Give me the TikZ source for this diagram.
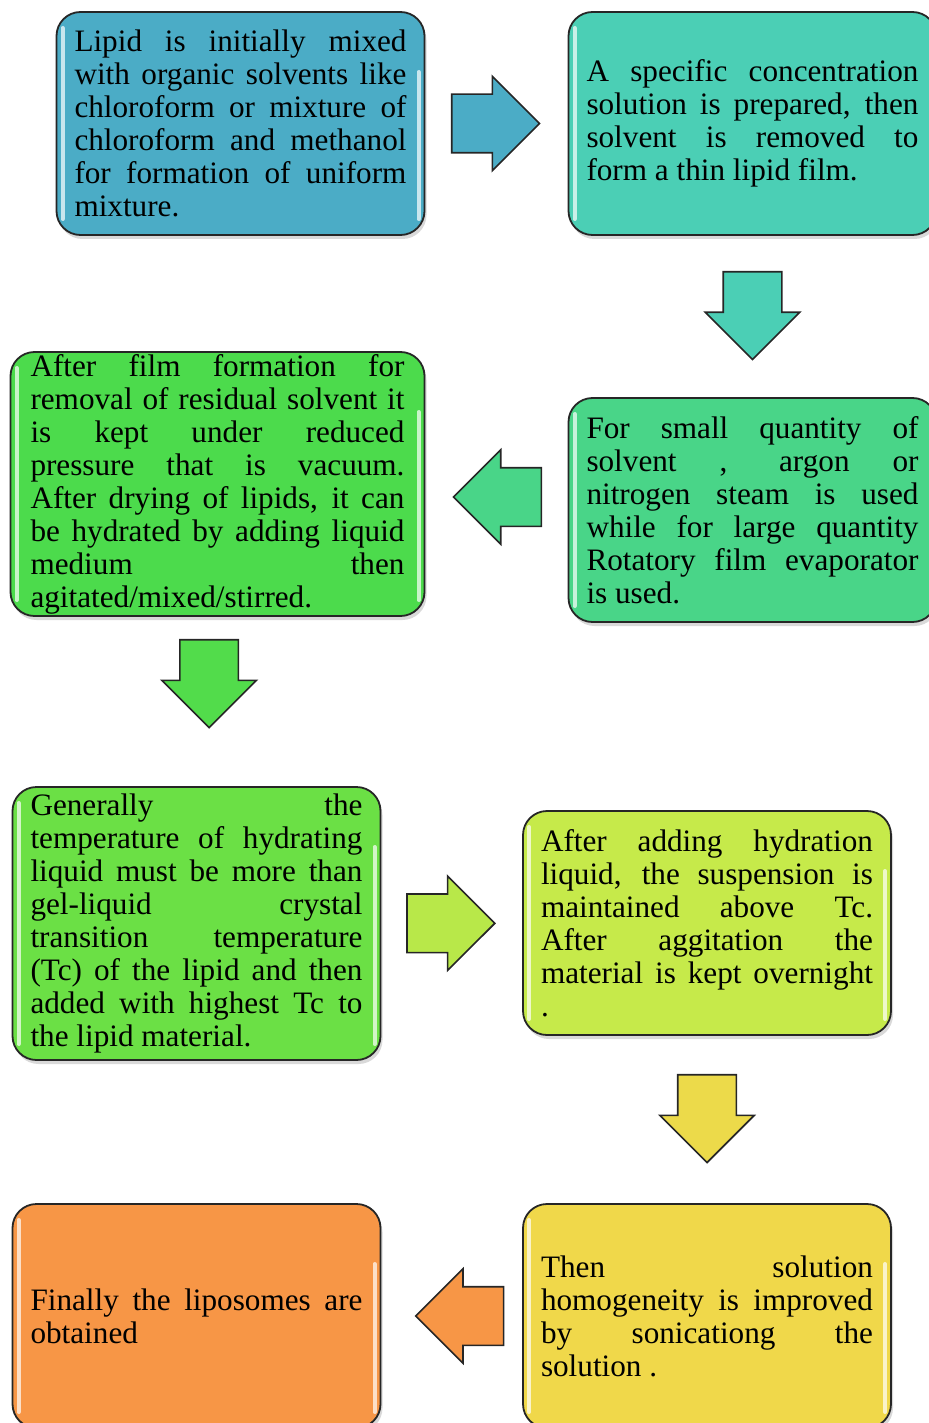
\documentclass[tikz,border=0pt]{standalone}
\usepackage{fontspec}
\setmainfont{Liberation Serif}
\usepackage{tikz}
\usetikzlibrary{shapes,arrows,positioning,calc,shadows}

\definecolor{mixblue}{HTML}{4BACC6}
\definecolor{filmteal}{HTML}{4BCFB5}
\definecolor{gasgreen}{HTML}{49D588}
\definecolor{vacgreen}{HTML}{4CDB4C}
\definecolor{tempgreen}{HTML}{6BE045}
\definecolor{hydlime}{HTML}{C6EA4A}
\definecolor{sonicyellow}{HTML}{F0D84A}
\definecolor{lipoorange}{HTML}{F79646}

\hfuzz=20pt
\tolerance=10000

\begin{document}
\begin{tikzpicture}[x=0.5pt, y=-0.5pt,
    gloss/.style={path picture={
        \draw[white, opacity=.7, line width=2pt, line cap=round]
            ([xshift=3pt, yshift=-8pt]path picture bounding box.north west) -- ([xshift=3pt, yshift=8pt]path picture bounding box.south west)
            ([xshift=-3pt, yshift=-30pt]path picture bounding box.north east) -- ([xshift=-3pt, yshift=8pt]path picture bounding box.south east);}},
    stage/.style={rectangle, draw=black!85, line width=0.9pt, rounded corners=12pt, align=justify, text width=166pt, inner xsep=9pt, inner ysep=0pt, font=\fontsize{15.6pt}{16.5pt}\selectfont, drop shadow={shadow xshift=1pt, shadow yshift=-2pt, opacity=.3}, gloss},
    flow/.style={single arrow, draw=black!85, line width=0.8pt, inner sep=14.25pt, minimum height=42pt, single arrow head extend=9pt, single arrow tip angle=90},
    toeast/.style={xshift=-7.75pt},
    tosouth/.style={shape border rotate=270, yshift=7.75pt},
    towest/.style={shape border rotate=180, xshift=7.75pt}
]
    \useasboundingbox (0,0) rectangle (928,1423);

    % Process boxes
    \node[stage, fill=mixblue, minimum height=111.5pt] (mix) at (240.5,123.5) {Lipid is initially mixed\linebreak with organic solvents like\linebreak chloroform or mixture of\linebreak chloroform and methanol\linebreak for formation of uniform\linebreak mixture.};
    \node[stage, fill=filmteal, minimum height=111.5pt] (film) at (752.5,123.5) {A specific concentration\linebreak solution is prepared, then\linebreak solvent is removed to\linebreak form a thin lipid film.};
    \node[stage, fill=gasgreen, minimum height=112pt] (gas) at (752.5,510) {For small quantity of\linebreak solvent , argon or\linebreak nitrogen steam is used\linebreak while for large quantity\linebreak Rotatory film evaporator\linebreak is used.};
    \node[stage, fill=vacgreen, minimum height=132pt, text width=187pt, inner xsep=10pt] (vacuum) at (217.5,484) {After film formation for\linebreak removal of residual solvent it\linebreak is kept under reduced\linebreak pressure that is vacuum.\linebreak After drying of lipids, it can\linebreak be hydrated by adding liquid\linebreak medium then\linebreak agitated/mixed/stirred.};
    \node[stage, fill=tempgreen, minimum height=136.5pt] (temp) at (196.5,923.5) {Generally the\linebreak temperature of hydrating\linebreak liquid must be more than\linebreak gel-liquid crystal\linebreak transition temperature\linebreak (Tc) of the lipid and then\linebreak added with highest Tc to\linebreak the lipid material.};
    \node[stage, fill=hydlime, minimum height=112pt] (hydrate) at (707,923) {After adding hydration\linebreak liquid, the suspension is\linebreak maintained above Tc.\linebreak After aggitation the\linebreak material is kept overnight\linebreak .};
    \node[stage, fill=sonicyellow, minimum height=112pt] (sonic) at (707,1316) {Then solution\linebreak homogeneity is improved\linebreak by sonicationg the\linebreak solution .};
    \node[stage, fill=lipoorange, minimum height=112pt] (lipo) at (196.5,1316) {Finally the liposomes are\linebreak obtained};

    % Block arrows
    \node[flow, toeast, fill=mixblue] (a1) at ($(mix.east)!0.5!(film.west)$) {};
    \node[flow, tosouth, fill=filmteal] (a2) at ($(film.south)!0.5!(gas.north)$) {};
    \node[flow, towest, fill=gasgreen] (a3) at ($(gas.west)!0.5!(vacuum.east)$) {};
    \node[flow, tosouth, fill=vacgreen!80!tempgreen] (a4) at ($(vacuum.south)!0.4!(temp.north)$) {};
    \node[flow, toeast, fill=hydlime!85!tempgreen] (a5) at ($(temp.east)!0.5!(hydrate.west)$) {};
    \node[flow, tosouth, fill=sonicyellow!90!hydlime] (a6) at ($(hydrate.south)!0.5!(sonic.north)$) {};
    \node[flow, towest, fill=lipoorange] (a7) at ($(sonic.west)!0.45!(lipo.east)$) {};
\end{tikzpicture}
\end{document}
